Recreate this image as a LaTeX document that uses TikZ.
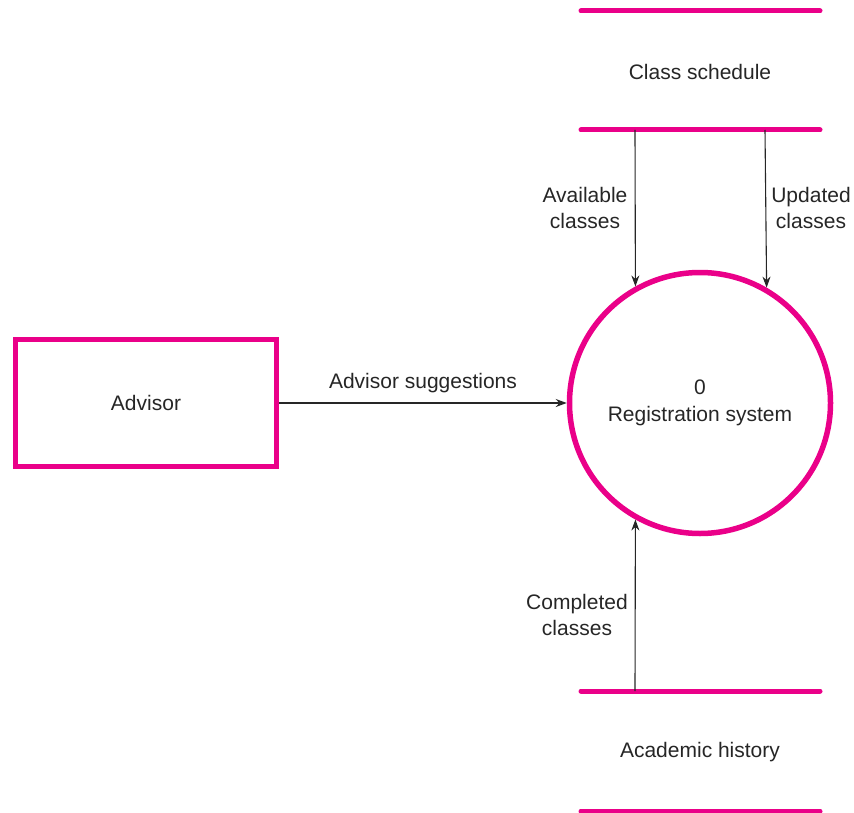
\documentclass[tikz,border=0pt]{standalone}
\usepackage{fontspec}
\setmainfont{Liberation Sans}
\usetikzlibrary{arrows.meta}
\definecolor{dfdpink}{RGB}{234,0,137}
\begin{document}
\begin{tikzpicture}[x=1pt,y=-1pt,
  every node/.style={font=\fontsize{21}{26}\selectfont, text=black!85, inner sep=0pt},
  entitybox/.style={draw=dfdpink, line width=5.5pt, minimum width=261pt, minimum height=127pt},
  procnode/.style={draw=dfdpink, line width=5.5pt, circle, minimum size=261pt, align=center},
  storeline/.style={draw=dfdpink, line width=5pt, line cap=round},
  flow/.style={draw=black!85, line width=1.1pt, -{Stealth[length=11pt,width=8pt]}},
  lbl/.style={align=center}]
\useasboundingbox (0,0) rectangle (854,813);
% data stores
\coordinate (cs1a) at (581,11); \coordinate (cs1b) at (820,11);
\coordinate (cs2a) at (581,130); \coordinate (cs2b) at (820,130);
\coordinate (ah1a) at (581,691); \coordinate (ah1b) at (820,691);
\coordinate (ah2a) at (581,811); \coordinate (ah2b) at (820,811);
\draw[storeline] (cs1a) -- (cs1b);
\draw[storeline] (cs2a) -- (cs2b);
\draw[storeline] (ah1a) -- (ah1b);
\draw[storeline] (ah2a) -- (ah2b);
\node (cstext) at (700,72) {Class schedule};
\node (ahtext) at (700,752) {Academic history};
% entity and process
\node[entitybox] (advisor) at (146,403) {Advisor};
\node[procnode] (proc) at (700,403) {0\\[1pt]Registration system};
% flows
\coordinate (avail) at (635,130);
\coordinate (upd) at (765,130);
\coordinate (comp) at (635,691);
\draw[flow] (avail) -- (proc.119.3);
\draw[flow] (upd) -- (proc.60.7);
\draw[flow] (comp) -- (proc.-119.3);
\draw[flow] (advisor.east) -- (proc.west);
% labels
\node[lbl] (l1) at (585,208) {Available\\classes};
\node[lbl] (l2) at (811,208) {Updated\\classes};
\node[lbl] (l3) at (577,615) {Completed\\classes};
\node[lbl] (l4) at (423,383) {Advisor suggestions};
\end{tikzpicture}
\end{document}
